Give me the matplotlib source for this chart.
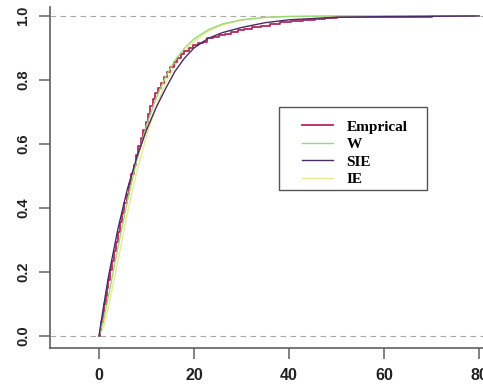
import matplotlib
matplotlib.use("Agg")
import matplotlib.pyplot as plt
from matplotlib.patches import Rectangle

# Empirical CDF (step positions and levels)
emp_x = [0, 0.2, 0.5, 0.8, 1.1, 1.4, 1.7, 2.0, 2.4, 2.8, 3.2, 3.6, 4.0, 4.4, 4.8,
         5.3, 5.8, 6.3, 6.8, 7.3, 7.8, 8.3, 8.8, 9.3, 9.8, 10.3, 10.8, 11.3, 11.9,
         12.5, 13.1, 13.7, 14.3, 15.0, 15.7, 16.4, 17.2, 18.0, 18.9, 19.8, 20.8,
         21.8, 22.8, 24.0, 25.2, 26.5, 27.8, 29.2, 30.6, 32.2, 34.0, 36.0, 38.2,
         40.5, 43.0, 45.5, 47.5, 50, 56, 63, 70, 79]
emp_y = [0.0, 0.02, 0.045, 0.075, 0.10, 0.125, 0.15, 0.175, 0.205, 0.235, 0.265, 0.295,
         0.325, 0.355, 0.385, 0.415, 0.445, 0.475, 0.505, 0.535, 0.565, 0.595, 0.62, 0.645,
         0.67, 0.695, 0.72, 0.74, 0.76, 0.775, 0.79, 0.81, 0.825, 0.84, 0.855,
         0.87, 0.88, 0.89, 0.90, 0.91, 0.915, 0.92, 0.93, 0.935, 0.94, 0.945,
         0.95, 0.955, 0.96, 0.965, 0.97, 0.975, 0.98, 0.983, 0.986, 0.99, 0.994,
         0.996, 0.997, 0.998, 0.999, 1.0]

# Fitted CDFs
fit_x = [0, 1, 2, 4, 6, 8, 10, 12, 14, 16, 18, 20, 23, 26, 30, 35, 40, 50, 60, 80]
w_y   = [0, 0.052, 0.124, 0.277, 0.423, 0.551, 0.657, 0.742, 0.809, 0.861, 0.899,
         0.928, 0.957, 0.975, 0.988, 0.9957, 0.9985, 1.0, 1.0, 1.0]
sie_y = [0, 0.095, 0.185, 0.335, 0.46, 0.56, 0.643, 0.713, 0.772, 0.827, 0.868,
         0.90, 0.93, 0.948, 0.964, 0.979, 0.988, 0.996, 0.998, 1.0]
ie_y  = [0, 0.03, 0.09, 0.235, 0.385, 0.515, 0.625, 0.715, 0.79, 0.845, 0.888,
         0.92, 0.952, 0.972, 0.987, 0.995, 0.998, 1.0, 1.0, 1.0]

labels = ["Emprical", "W", "SIE", "IE"]
xticks = [0, 20, 40, 60, 80]
yticks = [0.0, 0.2, 0.4, 0.6, 0.8, 1.0]

fig = plt.figure(figsize=(4.83, 3.88), dpi=100)
W, H = 483, 388
ax = fig.add_axes([50 / W, 40 / H, 450 / W, 341 / H])
ax.set_xlim(-10.3, 84.4)
ax.set_ylim(-0.0375, 1.028)

for yv in (0, 1):
    ax.axhline(yv, color="#a8a8a8", lw=0.8, ls=(0, (5, 4)), zorder=1)

ax.plot(emp_x, emp_y, drawstyle="steps-post", color="#b8285a", lw=1.3,
        label=labels[0], zorder=3)
ax.plot(fit_x, w_y, color="#98d878", lw=1.0, label=labels[1], zorder=4)
ax.plot(fit_x, sie_y, color="#4a2a68", lw=1.0, label=labels[2], zorder=4)
ax.plot(fit_x, ie_y, color="#ece890", lw=1.0, label=labels[3], zorder=2)

for s in ("top", "right"):
    ax.spines[s].set_visible(False)
for s in ("left", "bottom"):
    ax.spines[s].set_color("#606060")
    ax.spines[s].set_linewidth(1.2)

ax.set_xticks(xticks)
ax.set_xticklabels([str(v) for v in xticks], fontfamily="Liberation Sans",
                   fontweight="bold", fontsize=11.5)
ax.set_yticks(yticks)
ax.set_yticklabels([f"{v:.1f}" for v in yticks], fontfamily="Liberation Sans",
                   fontweight="bold", fontsize=10.5, rotation=90, va="center")
ax.tick_params(axis="both", length=8, width=1.1, color="#606060",
               labelcolor="#222222")
ax.tick_params(axis="x", pad=6.5)
ax.tick_params(axis="y", pad=6)

ax.add_patch(Rectangle((279 / W, 1 - 190 / H), 148 / W, 83 / H,
                       transform=fig.transFigure, fill=True,
                       facecolor="white", edgecolor="#555555", lw=1.0,
                       zorder=8, clip_on=False))

fs = 11
leg = ax.legend(loc="upper left", bbox_to_anchor=(302 / W, 1 - 120 / H),
                bbox_transform=fig.transFigure, borderaxespad=0,
                prop={"family": "Liberation Serif", "weight": "bold", "size": fs},
                handlelength=2.0, handletextpad=0.9, labelspacing=0.25,
                borderpad=0, frameon=False)
leg.set_zorder(10)

fig.savefig("out.png", dpi=100)
